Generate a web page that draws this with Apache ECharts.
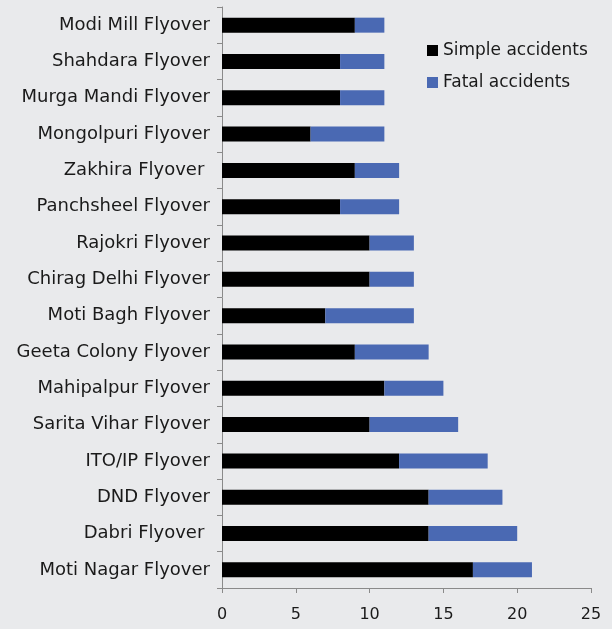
<!DOCTYPE html>
<html>
<head>
<meta charset="utf-8">
<script src="https://cdn.jsdelivr.net/npm/echarts@6/dist/echarts.min.js"></script>
<style>
html,body{margin:0;padding:0;background:#e9eaec;}
#c{width:612px;height:629px;}
</style>
</head>
<body>
<div id="c"></div>
<script>
var categories = ["Moti Nagar Flyover","Dabri Flyover ","DND Flyover","ITO/IP Flyover","Sarita Vihar Flyover","Mahipalpur Flyover","Geeta Colony Flyover","Moti Bagh Flyover","Chirag Delhi Flyover","Rajokri Flyover","Panchsheel Flyover","Zakhira Flyover ","Mongolpuri Flyover","Murga Mandi Flyover","Shahdara Flyover","Modi Mill Flyover"];
var simpleAccidents = [17,14,14,12,10,11,9,7,10,10,8,9,6,8,8,9];
var fatalAccidents = [4,6,5,6,6,4,5,6,3,3,4,3,5,3,3,2];
var xTicks = [0,5,10,15,20,25];

var chart = echarts.init(document.getElementById('c'));
var font = '"DejaVu Sans", sans-serif';
chart.setOption({
  backgroundColor: '#e9eaec',
  animation: false,
  textStyle: {fontFamily: font},
  grid: {left: 222, right: 21, top: 7, bottom: 41, containLabel: false},
  legend: {
    orient: 'vertical', left: 422, top: 37, itemWidth: 11, itemHeight: 11, itemGap: 15,
    icon: 'rect',
    textStyle: {fontSize: 17, color: '#1a1a1a', fontFamily: font},
    data: ['Simple accidents','Fatal accidents']
  },
  xAxis: {
    type: 'value', min: xTicks[0], max: xTicks[xTicks.length-1], interval: 5,
    splitLine: {show: false},
    axisLine: {show: true, lineStyle: {color: '#8a8a8a', width: 1}},
    axisTick: {show: true, length: 5, lineStyle: {color: '#8a8a8a'}},
    axisLabel: {fontSize: 16, color: '#1a1a1a', margin: 19, fontFamily: font}
  },
  yAxis: {
    type: 'category', data: categories,
    axisLine: {show: true, lineStyle: {color: '#8a8a8a', width: 1}},
    axisTick: {show: true, length: 5, lineStyle: {color: '#8a8a8a'}},
    axisLabel: {fontSize: 18, color: '#1a1a1a', margin: 12, fontFamily: font}
  },
  series: [
    {name: 'Simple accidents', type: 'bar', stack: 'a', data: simpleAccidents, barWidth: 15, itemStyle: {color: '#000000'}},
    {name: 'Fatal accidents', type: 'bar', stack: 'a', data: fatalAccidents, barWidth: 15, itemStyle: {color: '#4a69b3'}}
  ]
});
</script>
</body>
</html>
